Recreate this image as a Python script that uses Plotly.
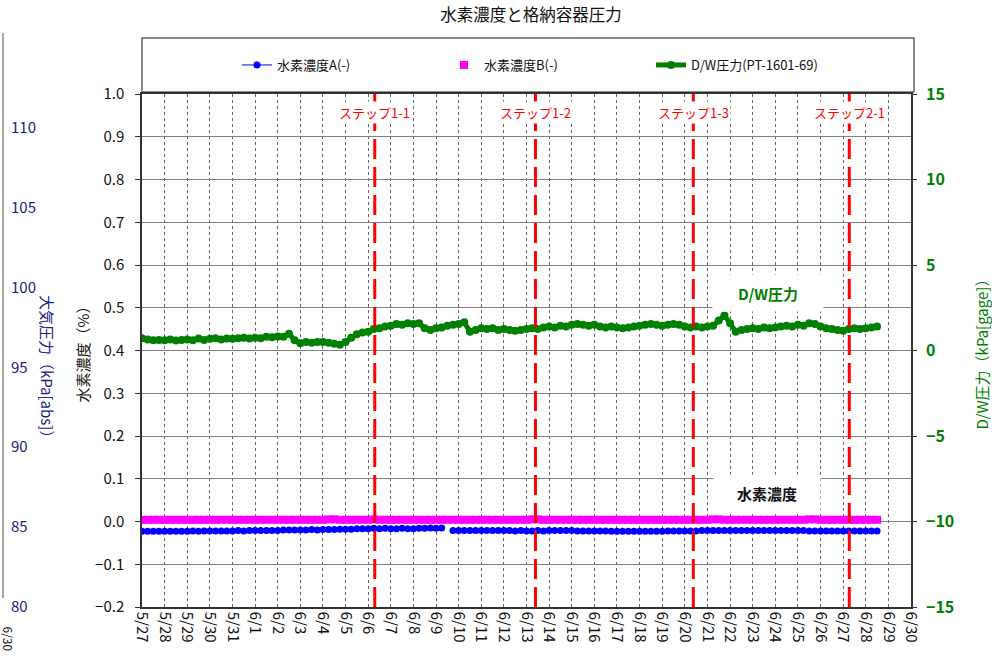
import plotly.graph_objects as go
import pandas as pd

# ---------------- data ----------------
start_time = "2011-05-27 00:00"
sample_freq = "6h"

# D/W pressure (kPa[gage]) - 4 samples per day, 5/27 00:00 .. 6/28 12:00
dw_pressure = [
    0.72, 0.65, 0.60, 0.62,   # 5/27
    0.60, 0.65, 0.58, 0.62,   # 5/28
    0.65, 0.60, 0.70, 0.62,   # 5/29
    0.68, 0.72, 0.65, 0.70,   # 5/30
    0.68, 0.72, 0.75, 0.70,   # 5/31
    0.75, 0.72, 0.80, 0.78,   # 6/1
    0.82, 0.80, 0.98, 0.60,   # 6/2
    0.42, 0.50, 0.45, 0.50,   # 6/3
    0.50, 0.45, 0.40, 0.33,   # 6/4
    0.50, 0.75, 0.95, 1.05,   # 6/5
    1.10, 1.25, 1.30, 1.40,   # 6/6
    1.45, 1.55, 1.50, 1.60,   # 6/7
    1.55, 1.60, 1.30, 1.20,   # 6/8
    1.30, 1.35, 1.45, 1.50,   # 6/9
    1.55, 1.65, 1.10, 1.20,   # 6/10
    1.30, 1.25, 1.30, 1.20,   # 6/11
    1.25, 1.20, 1.15, 1.20,   # 6/12
    1.25, 1.30, 1.25, 1.35,   # 6/13
    1.40, 1.35, 1.45, 1.40,   # 6/14
    1.50, 1.55, 1.50, 1.45,   # 6/15
    1.50, 1.40, 1.35, 1.40,   # 6/16
    1.35, 1.30, 1.35, 1.40,   # 6/17
    1.45, 1.50, 1.55, 1.50,   # 6/18
    1.45, 1.50, 1.55, 1.50,   # 6/19
    1.40, 1.35, 1.40, 1.35,   # 6/20
    1.40, 1.45, 1.75, 2.05,   # 6/21
    1.60, 1.10, 1.20, 1.25,   # 6/22
    1.30, 1.25, 1.35, 1.30,   # 6/23
    1.35, 1.40, 1.45, 1.40,   # 6/24
    1.50, 1.45, 1.60, 1.55,   # 6/25
    1.40, 1.30, 1.25, 1.20,   # 6/26
    1.15, 1.25, 1.30, 1.25,   # 6/27
    1.30, 1.35, 1.40,         # 6/28
]

# Hydrogen concentration A (%)
h2_a = [
    -0.023, -0.023, -0.023, -0.023,
    -0.023, -0.023, -0.023, -0.023,
    -0.023, -0.022, -0.023, -0.022,
    -0.022, -0.022, -0.022, -0.022,
    -0.022, -0.021, -0.022, -0.021,
    -0.021, -0.021, -0.021, -0.021,
    -0.021, -0.020, -0.020, -0.020,
    -0.020, -0.020, -0.019, -0.020,
    -0.019, -0.019, -0.019, -0.018,
    -0.018, -0.018, -0.017, -0.017,
    -0.017, -0.016, -0.017, -0.016,
    -0.017, -0.017, -0.016, -0.017,
    -0.017, -0.016, -0.016, -0.015,
    -0.016, -0.015, None, -0.021,
    -0.021, -0.021, -0.021, -0.021,
    -0.021, -0.021, -0.021, -0.021,
    -0.021, -0.021, -0.022, -0.021,
    -0.022, -0.022, -0.021, -0.022,
    -0.021, -0.021, -0.021, -0.021,
    -0.021, -0.022, -0.022, -0.022,
    -0.022, -0.022, -0.022, -0.023,
    -0.023, -0.023, -0.023, -0.023,
    -0.023, -0.023, -0.023, -0.023,
    -0.023, -0.022, -0.022, -0.022,
    -0.022, -0.022, -0.022, -0.021,
    -0.021, -0.021, -0.021, -0.021,
    -0.021, -0.021, -0.021, -0.021,
    -0.021, -0.021, -0.021, -0.021,
    -0.021, -0.021, -0.021, -0.021,
    -0.021, -0.021, -0.022, -0.022,
    -0.022, -0.022, -0.022, -0.022,
    -0.022, -0.022, -0.022, -0.022,
    -0.022, -0.022, -0.022,
]

# Hydrogen concentration B (%)
h2_b = [
    0.004, 0.004, 0.004, 0.004,
    0.004, 0.004, 0.004, 0.004,
    0.004, 0.004, 0.004, 0.004,
    0.004, 0.004, 0.004, 0.004,
    0.004, 0.004, 0.004, 0.004,
    0.004, 0.004, 0.004, 0.004,
    0.004, 0.004, 0.004, 0.004,
    0.004, 0.004, 0.004, 0.004,
    0.004, 0.005, 0.005, 0.004,
    0.004, 0.004, 0.004, 0.004,
    0.004, 0.005, 0.004, 0.004,
    0.004, 0.004, 0.004, 0.004,
    0.004, 0.004, 0.004, 0.004,
    0.004, 0.004, 0.004, 0.004,
    0.004, 0.004, 0.004, 0.004,
    0.004, 0.004, 0.004, 0.004,
    0.004, 0.004, 0.004, 0.004,
    0.004, 0.005, 0.005, 0.004,
    0.004, 0.004, 0.004, 0.004,
    0.004, 0.004, 0.004, 0.004,
    0.004, 0.004, 0.004, 0.004,
    0.004, 0.004, 0.004, 0.004,
    0.004, 0.004, 0.004, 0.004,
    0.004, 0.004, 0.004, 0.004,
    0.004, 0.004, 0.004, 0.004,
    0.004, 0.005, 0.005, 0.004,
    0.004, 0.004, 0.004, 0.004,
    0.004, 0.004, 0.004, 0.004,
    0.004, 0.004, 0.004, 0.004,
    0.004, 0.004, 0.005, 0.005,
    0.004, 0.004, 0.004, 0.004,
    0.004, 0.004, 0.004, 0.004,
    0.004, 0.004, 0.004,
]

# x axis day ticks
tick_dates = [
    "2011-05-27", "2011-05-28", "2011-05-29", "2011-05-30", "2011-05-31",
    "2011-06-01", "2011-06-02", "2011-06-03", "2011-06-04", "2011-06-05",
    "2011-06-06", "2011-06-07", "2011-06-08", "2011-06-09", "2011-06-10",
    "2011-06-11", "2011-06-12", "2011-06-13", "2011-06-14", "2011-06-15",
    "2011-06-16", "2011-06-17", "2011-06-18", "2011-06-19", "2011-06-20",
    "2011-06-21", "2011-06-22", "2011-06-23", "2011-06-24", "2011-06-25",
    "2011-06-26", "2011-06-27", "2011-06-28", "2011-06-29", "2011-06-30",
]
tick_labels = [
    "5/27", "5/28", "5/29", "5/30", "5/31",
    "6/1", "6/2", "6/3", "6/4", "6/5",
    "6/6", "6/7", "6/8", "6/9", "6/10",
    "6/11", "6/12", "6/13", "6/14", "6/15",
    "6/16", "6/17", "6/18", "6/19", "6/20",
    "6/21", "6/22", "6/23", "6/24", "6/25",
    "6/26", "6/27", "6/28", "6/29", "6/30",
]

# step markers
step_times = ["2011-06-06 07:00", "2011-06-13 09:30", "2011-06-20 09:00", "2011-06-27 06:30"]
step_labels = ["ステップ1-1", "ステップ1-2", "ステップ1-3", "ステップ2-1"]

# left (ghost) atmospheric pressure axis ticks
atm_ticks = [80, 85, 90, 95, 100, 105, 110]

# ---------------- figure ----------------
W, H = 992, 659
FONT = "Noto Sans CJK JP"

def px(x):
    return x / W

def py(y):
    return 1 - y / H

times = pd.date_range(start_time, periods=len(dw_pressure), freq=sample_freq)

fig = go.Figure()

fig.add_trace(go.Scatter(
    x=times, y=h2_a, name="水素濃度A(-)", mode="lines+markers",
    line=dict(color="#0000FF", width=1), marker=dict(color="#0000FF", size=7, symbol="circle"),
    yaxis="y", connectgaps=False,
))
fig.add_trace(go.Scatter(
    x=times, y=h2_b, name="水素濃度B(-)", mode="markers",
    marker=dict(color="#FF00FF", size=8, symbol="square"),
    yaxis="y",
))
fig.add_trace(go.Scatter(
    x=times, y=dw_pressure, name="D/W圧力(PT-1601-69)", mode="lines+markers",
    line=dict(color="#008000", width=5), marker=dict(color="#008000", size=8),
    yaxis="y2",
))
# invisible trace to hold the ghost atmospheric-pressure axis
fig.add_trace(go.Scatter(x=[], y=[], yaxis="y3", showlegend=False, hoverinfo="skip"))

x_dom = [px(142), px(911)]
y_dom = [py(607), py(94)]

shapes = []
for t in step_times:
    shapes.append(dict(type="line", xref="x", yref="y domain", x0=t, x1=t, y0=0, y1=1,
                       line=dict(color="#FF0000", width=3, dash="20px,8px"), layer="above"))
# legend frame
shapes.append(dict(type="rect", xref="paper", yref="paper", x0=px(142), x1=px(914),
                   y0=py(92), y1=py(38), line=dict(color="#666666", width=1.5),
                   fillcolor="rgba(0,0,0,0)", layer="below"))
# frame of neighbouring chart (cut off at left)
shapes.append(dict(type="line", xref="paper", yref="paper", x0=px(3), x1=px(3),
                   y0=py(33), y1=py(598), line=dict(color="#888888", width=1.5)))

annotations = []
for t, lab in zip(step_times, step_labels):
    annotations.append(dict(x=t, xref="x", y=py(112), yref="paper", text=lab, showarrow=False,
                            font=dict(family=FONT, size=13, color="#FF0000"),
                            bgcolor="white", xanchor="center", yanchor="middle"))
annotations.append(dict(x=px(768), y=py(293), xref="paper", yref="paper", text="<b>D/W圧力</b>",
                        showarrow=False, font=dict(family=FONT, size=15, color="#008000"),
                        bgcolor="white", width=108, height=34, xanchor="center", yanchor="middle"))
annotations.append(dict(x=px(767), y=py(493), xref="paper", yref="paper", text="<b>水素濃度</b>",
                        showarrow=False, font=dict(family=FONT, size=15, color="#111111"),
                        bgcolor="white", width=104, height=34, xanchor="center", yanchor="middle"))
annotations.append(dict(x=px(48), y=py(370), xref="paper", yref="paper", text="大気圧力（kPa[abs]）",
                        showarrow=False, textangle=90, font=dict(family=FONT, size=15, color="#202080"),
                        xanchor="center", yanchor="middle"))
annotations.append(dict(x=px(8), y=py(624), xref="paper", yref="paper", text="6/30",
                        showarrow=False, textangle=90, font=dict(family=FONT, size=12, color="#111111"),
                        xanchor="center", yanchor="top"))

fig.update_layout(
    width=W, height=H,
    margin=dict(l=0, r=0, t=0, b=0),
    paper_bgcolor="white", plot_bgcolor="white",
    font=dict(family=FONT, color="#111111"),
    title=dict(text="水素濃度と格納容器圧力", x=px(531), y=py(15), xref="paper", yref="paper",
               xanchor="center", yanchor="middle", font=dict(family=FONT, size=16.5, color="#111111")),
    showlegend=True,
    legend=dict(orientation="h", x=px(237), y=py(65), xanchor="left", yanchor="middle",
                xref="paper", yref="paper",
                entrywidth=162, entrywidthmode="pixels", bgcolor="rgba(0,0,0,0)",
                font=dict(family=FONT, size=13, color="#111111")),
    xaxis=dict(
        type="date", domain=x_dom, range=[tick_dates[0], tick_dates[-1]],
        tickvals=tick_dates, ticktext=tick_labels, tickangle=90,
        tickfont=dict(family=FONT, size=15, color="#111111"),
        showgrid=True, gridcolor="#666666", griddash="dot", gridwidth=1,
        showline=True, linecolor="#333333", linewidth=1.5, mirror=True,
        ticks="", zeroline=False, automargin=False,
    ),
    yaxis=dict(
        domain=y_dom, range=[-0.2, 1.0], dtick=0.1, tick0=-0.2, tickformat=".1f",
        tickfont=dict(family=FONT, size=15, color="#111111"),
        showgrid=True, gridcolor="#808080", gridwidth=1,
        showline=True, linecolor="#333333", linewidth=1.5,
        ticks="outside", ticklen=5, tickcolor="#333333", ticklabelstandoff=8,
        zeroline=False, automargin=False,
        title=dict(text="水素濃度（%）", font=dict(family=FONT, size=15, color="#111111"), standoff=2),
    ),
    yaxis2=dict(
        overlaying="y", side="right", anchor="x", range=[-15, 15], dtick=5, tick0=-15,
        tickfont=dict(family=FONT, size=16, color="#008000", weight="bold"),
        showgrid=False, zeroline=False, showline=True, linecolor="#333333", linewidth=1.5,
        ticks="outside", ticklen=4, tickcolor="#333333", ticklabelstandoff=6, automargin=False,
        title=dict(text="D/W圧力（kPa[gage]）", font=dict(family=FONT, size=15, color="#008000"), standoff=28),
    ),
    yaxis3=dict(
        overlaying="y", side="right", anchor="free", position=px(10),
        range=[80, 112.1], tickvals=atm_ticks,
        tickfont=dict(family=FONT, size=15, color="#202080"),
        showgrid=False, zeroline=False, showline=False, ticks="", automargin=False,
    ),
    shapes=shapes,
    annotations=annotations,
)

fig.write_html("out.html", config={"displayModeBar": False},
               post_script="document.body.style.margin='0';")
